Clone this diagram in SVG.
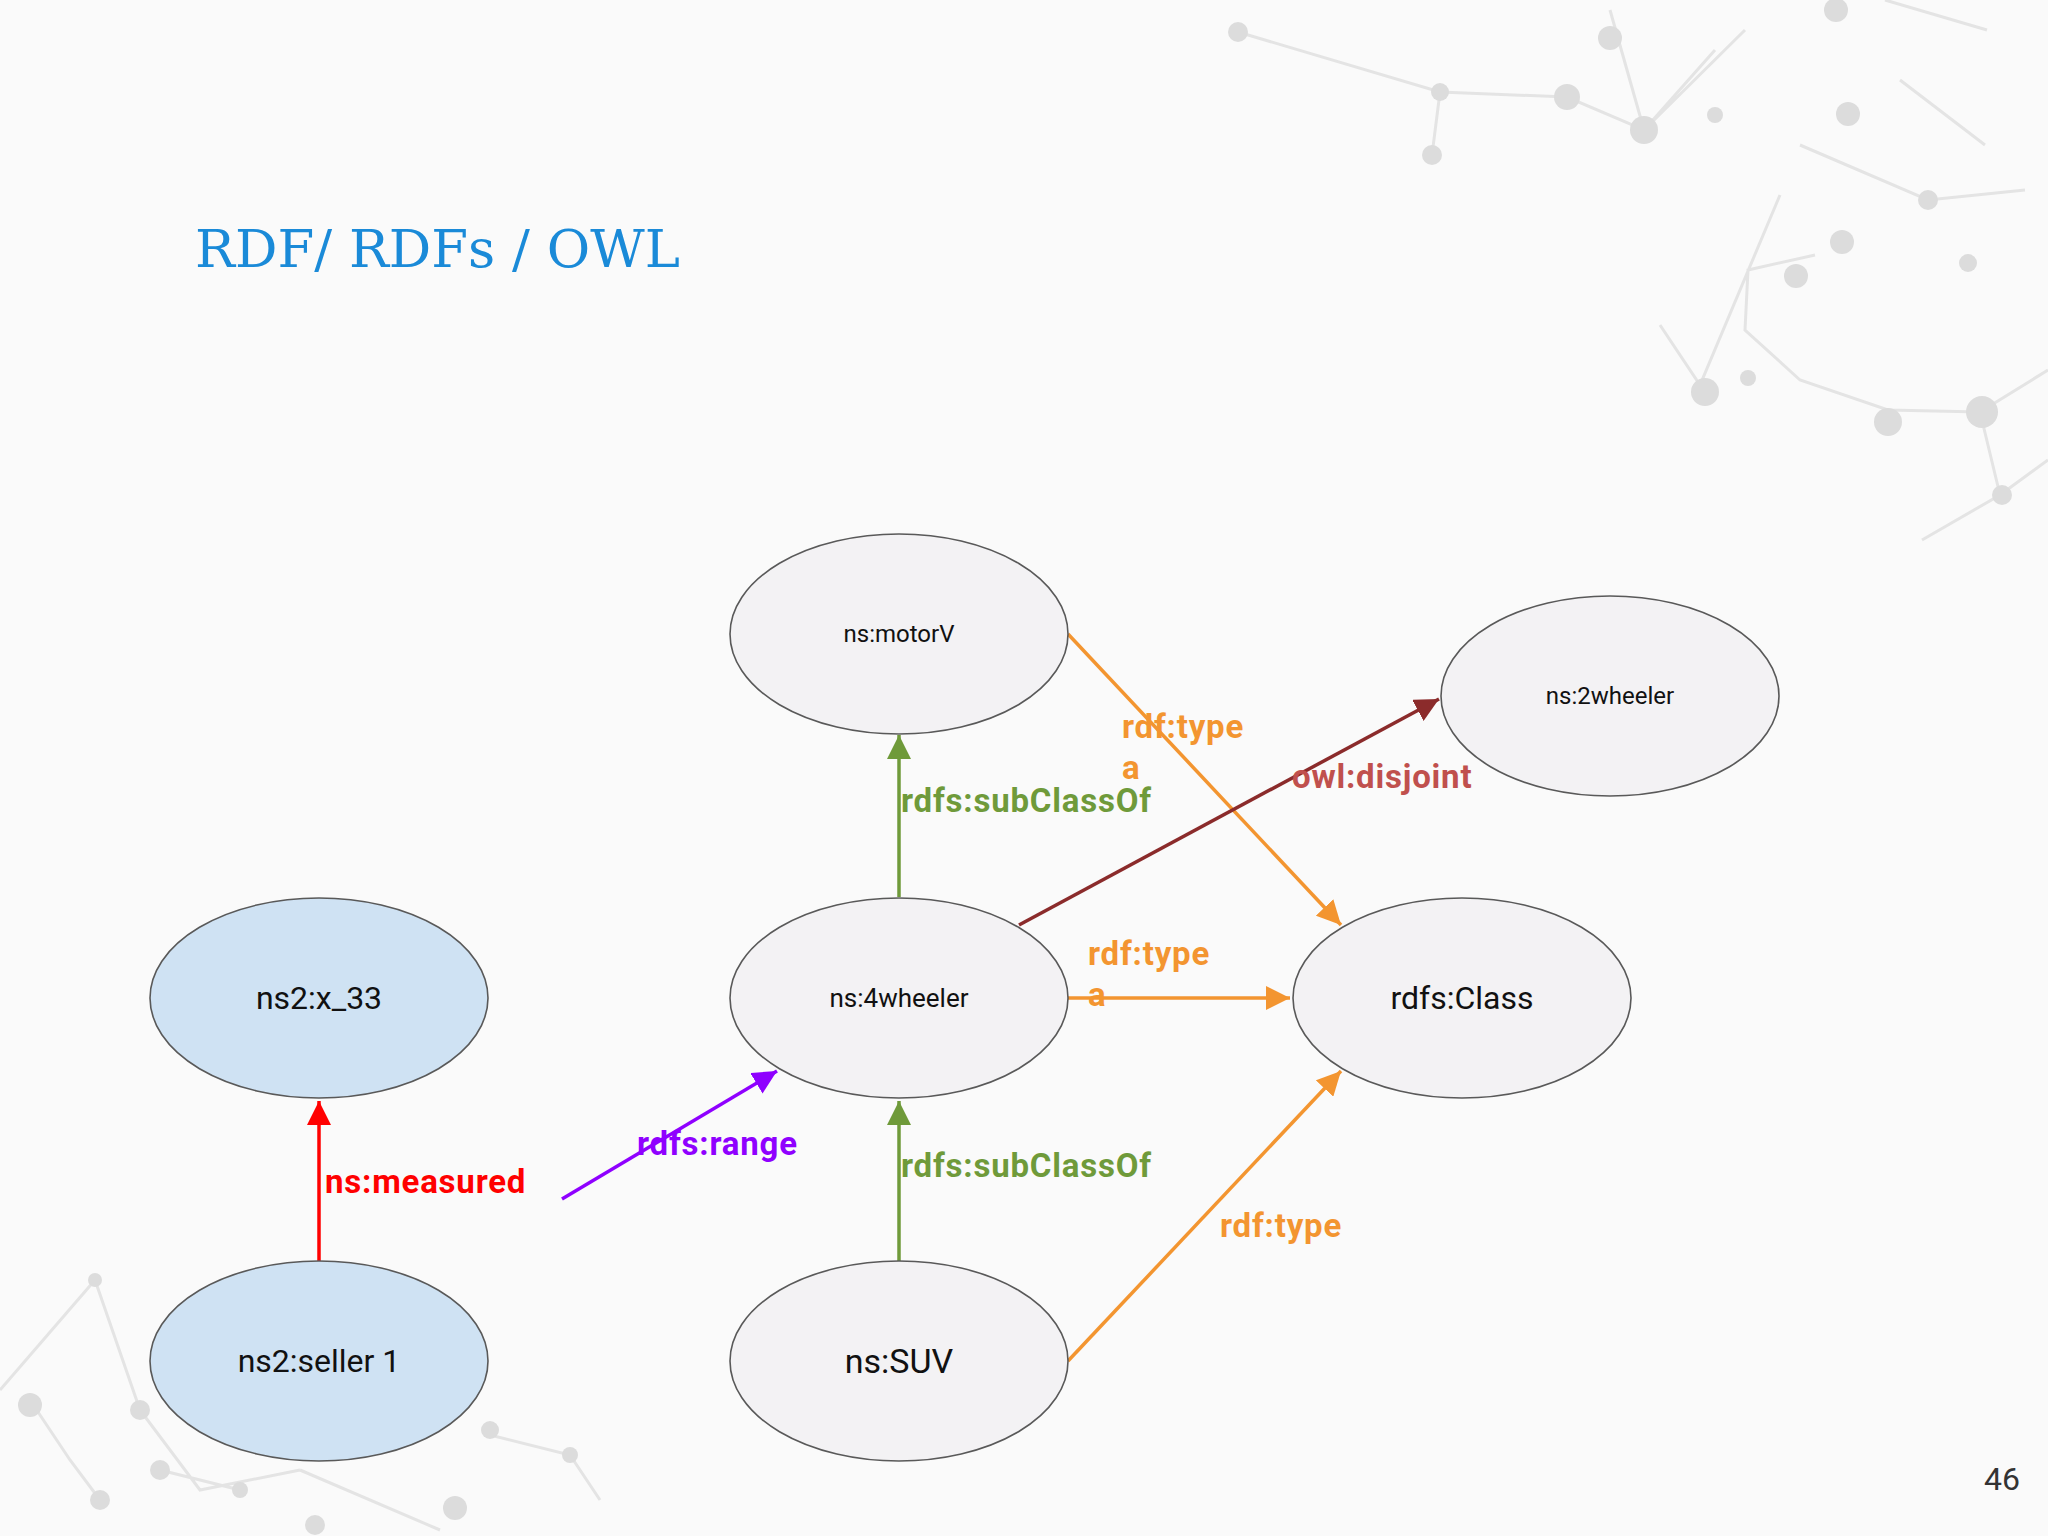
<svg xmlns="http://www.w3.org/2000/svg" width="2048" height="1536" viewBox="0 0 2048 1536">
<style>
.n{stroke:#595959;stroke-width:1.6}
.g{fill:#f3f2f4}.b{fill:#cfe2f3}
.t{font-family:Roboto,"Liberation Sans",sans-serif;fill:#111;text-anchor:middle;dominant-baseline:central}
.e{fill:none;stroke-width:3.5}
.l{font-family:Roboto,"Liberation Sans",sans-serif;font-weight:bold;font-size:33px;letter-spacing:0.8px}
.d{fill:#dcdcdc}.dl{stroke:#e4e4e4;stroke-width:3;fill:none}
</style>
<defs>
<marker id="ag" viewBox="0 0 10 10" refX="10" refY="5" markerWidth="24" markerHeight="24" markerUnits="userSpaceOnUse" orient="auto"><path d="M0,0L10,5L0,10z" fill="#6f9a3a"/></marker>
<marker id="aO" viewBox="0 0 10 10" refX="10" refY="5" markerWidth="24" markerHeight="24" markerUnits="userSpaceOnUse" orient="auto"><path d="M0,0L10,5L0,10z" fill="#f39530"/></marker>
<marker id="ar" viewBox="0 0 10 10" refX="10" refY="5" markerWidth="24" markerHeight="24" markerUnits="userSpaceOnUse" orient="auto"><path d="M0,0L10,5L0,10z" fill="#f00"/></marker>
<marker id="ap" viewBox="0 0 10 10" refX="10" refY="5" markerWidth="24" markerHeight="24" markerUnits="userSpaceOnUse" orient="auto"><path d="M0,0L10,5L0,10z" fill="#8f00ff"/></marker>
<marker id="ad" viewBox="0 0 10 10" refX="10" refY="5" markerWidth="24" markerHeight="24" markerUnits="userSpaceOnUse" orient="auto"><path d="M0,0L10,5L0,10z" fill="#8b2b2b"/></marker>
</defs>
<rect width="2048" height="1536" fill="#fafafa"/>
<g id="decor">
<path class="dl" d="M1238,32L1440,92L1567,97L1644,130L1610,10M1440,92L1432,155M1644,130L1745,30M1644,130L1715,50M1800,145L1928,200L2025,190M1780,195L1700,385L1660,325M1815,255L1748,270L1745,330L1800,380L1888,410L1980,412L2048,370M1980,412L2000,495L1922,540M2000,495L2048,460M1885,0L1987,30M1900,80L1985,145"/>
<circle class="d" cx="1238" cy="32" r="10"/><circle class="d" cx="1440" cy="92" r="9"/><circle class="d" cx="1567" cy="97" r="13"/><circle class="d" cx="1644" cy="130" r="14"/><circle class="d" cx="1432" cy="155" r="10"/><circle class="d" cx="1610" cy="38" r="12"/><circle class="d" cx="1715" cy="115" r="8"/><circle class="d" cx="1848" cy="114" r="12"/><circle class="d" cx="1928" cy="200" r="10"/><circle class="d" cx="1842" cy="242" r="12"/><circle class="d" cx="1796" cy="276" r="12"/><circle class="d" cx="1705" cy="392" r="14"/><circle class="d" cx="1748" cy="378" r="8"/><circle class="d" cx="1888" cy="422" r="14"/><circle class="d" cx="1982" cy="412" r="16"/><circle class="d" cx="2002" cy="495" r="10"/><circle class="d" cx="1968" cy="263" r="9"/><circle class="d" cx="1836" cy="10" r="12"/>
<path class="dl" d="M0,1390L95,1280L140,1410L200,1490L300,1470M30,1400L70,1460L100,1500M300,1470L440,1530M490,1435L570,1455L600,1500M160,1470L240,1490"/>
<circle class="d" cx="30" cy="1405" r="12"/><circle class="d" cx="95" cy="1280" r="7"/><circle class="d" cx="140" cy="1410" r="10"/><circle class="d" cx="160" cy="1470" r="10"/><circle class="d" cx="240" cy="1490" r="8"/><circle class="d" cx="100" cy="1500" r="10"/><circle class="d" cx="490" cy="1430" r="9"/><circle class="d" cx="570" cy="1455" r="8"/><circle class="d" cx="455" cy="1508" r="12"/><circle class="d" cx="315" cy="1525" r="10"/>
</g>
<text x="195" y="267" font-family="'DejaVu Serif','Liberation Serif',serif" font-size="53" fill="#1a8ad8">RDF/ RDFs / OWL</text>
<g id="edges">
<line class="e" x1="319" y1="1261" x2="319" y2="1101" stroke="#f00" marker-end="url(#ar)"/>
<line class="e" x1="562" y1="1199" x2="777" y2="1071" stroke="#8f00ff" marker-end="url(#ap)"/>
<line class="e" x1="899" y1="897" x2="899" y2="735" stroke="#6f9a3a" marker-end="url(#ag)"/>
<line class="e" x1="899" y1="1261" x2="899" y2="1101" stroke="#6f9a3a" marker-end="url(#ag)"/>
<line class="e" x1="1068" y1="634" x2="1341" y2="925" stroke="#f39530" marker-end="url(#aO)"/>
<line class="e" x1="1068" y1="998" x2="1290" y2="998" stroke="#f39530" marker-end="url(#aO)"/>
<line class="e" x1="1068" y1="1361" x2="1341" y2="1071" stroke="#f39530" marker-end="url(#aO)"/>
<line class="e" x1="1019" y1="925" x2="1439" y2="699" stroke="#8b2b2b" marker-end="url(#ad)"/>
<text class="l" x="325" y="1193" fill="#f00">ns:measured</text>
<text class="l" x="637" y="1155" fill="#8f00ff">rdfs:range</text>
<text class="l" x="901" y="812" fill="#6f9a3a">rdfs:subClassOf</text>
<text class="l" x="901" y="1177" fill="#6f9a3a">rdfs:subClassOf</text>
<text class="l" x="1122" y="738" fill="#f39530">rdf:type</text>
<text class="l" x="1122" y="779" fill="#f39530">a</text>
<text class="l" x="1088" y="965" fill="#f39530">rdf:type</text>
<text class="l" x="1088" y="1006" fill="#f39530">a</text>
<text class="l" x="1220" y="1237" fill="#f39530">rdf:type</text>
<text class="l" x="1292" y="788" fill="#c0504d">owl:disjoint</text>
</g>
<g id="motorV"><ellipse class="n g" cx="899" cy="634" rx="169" ry="100"/><text class="t" x="899" y="634" font-size="24">ns:motorV</text></g>
<g id="twowheeler"><ellipse class="n g" cx="1610" cy="696" rx="169" ry="100"/><text class="t" x="1610" y="696" font-size="24">ns:2wheeler</text></g>
<g id="x33"><ellipse class="n b" cx="319" cy="998" rx="169" ry="100"/><text class="t" x="319" y="998" font-size="32">ns2:x_33</text></g>
<g id="fourwheeler"><ellipse class="n g" cx="899" cy="998" rx="169" ry="100"/><text class="t" x="899" y="998" font-size="26">ns:4wheeler</text></g>
<g id="rdfsClass"><ellipse class="n g" cx="1462" cy="998" rx="169" ry="100"/><text class="t" x="1462" y="998" font-size="32">rdfs:Class</text></g>
<g id="seller"><ellipse class="n b" cx="319" cy="1361" rx="169" ry="100"/><text class="t" x="319" y="1361" font-size="32">ns2:seller 1</text></g>
<g id="SUV"><ellipse class="n g" cx="899" cy="1361" rx="169" ry="100"/><text class="t" x="899" y="1361" font-size="34">ns:SUV</text></g>
<text x="2020" y="1479" font-family="Roboto,'Liberation Sans',sans-serif" font-size="32" fill="#333" text-anchor="end" dominant-baseline="central">46</text>
</svg>
